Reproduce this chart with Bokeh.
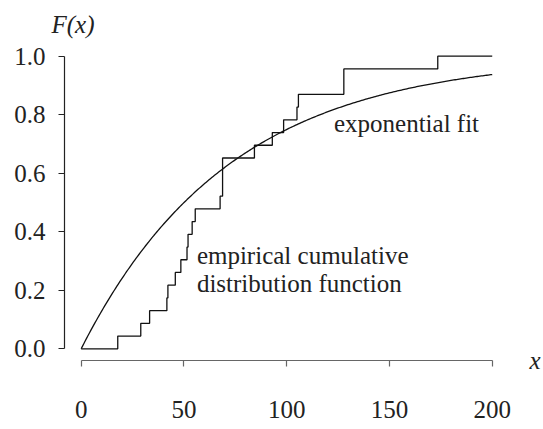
import numpy as np
from bokeh.plotting import figure
from bokeh.models import Range1d, FixedTicker, Label, LinearAxis
from bokeh.embed import file_html
from bokeh.resources import INLINE

# sorted sample values (read from the empirical CDF steps)
sample = [17.8, 29.0, 33.3, 41.7, 42.2, 45.8, 48.5, 51.5, 52.0, 54.0, 55.5,
          67.6, 68.8, 68.8, 68.8, 84.3, 93.0, 98.5, 105.0, 105.7, 127.8,
          127.8, 173.5]
x_ticks = [0, 50, 100, 150, 200]
y_ticks = [0.0, 0.2, 0.4, 0.6, 0.8, 1.0]
y_tick_labels = ["0.0", "0.2", "0.4", "0.6", "0.8", "1.0"]
x_max = 200

n = len(sample)
step_x = [0.0] + sample + [x_max]
step_y = [0.0] + [(i + 1) / n for i in range(n)] + [1.0]

fit_mean = float(np.mean(sample))
fit_x = [float(v) for v in np.linspace(0, x_max, 300)]
fit_y = [float(1 - np.exp(-v / fit_mean)) for v in fit_x]

FONT = "Liberation Serif"
FS = "25px"
TXT = "#222222"

p = figure(width=543, height=429, output_backend="svg",
           toolbar_location=None,
           x_range=Range1d(-8.11, 205.97), y_range=Range1d(-0.040, 1.0366),
           min_border_left=64, min_border_right=38, min_border_top=45,
           min_border_bottom=69)
p.outline_line_alpha = 0
p.xgrid.grid_line_color = None
p.ygrid.grid_line_color = None

p.step(step_x, step_y, mode="after", line_color="#111111", line_width=1.3)
p.line(fit_x, fit_y, line_color="#111111", line_width=1.3)

def style_axis(ax):
    ax.major_label_text_font = FONT
    ax.major_label_text_font_size = FS
    ax.major_label_text_color = TXT
    ax.major_tick_in = 0
    ax.major_tick_out = 6
    ax.minor_tick_in = 0
    ax.minor_tick_out = 0
    ax.major_tick_line_width = 1.2
    ax.axis_line_width = 1.2

for ax in (p.xaxis[0], p.yaxis[0]):
    style_axis(ax)

p.xaxis[0].ticker = FixedTicker(ticks=x_ticks)
p.xaxis[0].bounds = (0, 200)
p.xaxis[0].major_label_standoff = 34
p.xaxis[0].axis_line_color = "#666666"
p.xaxis[0].major_tick_line_color = "#666666"

p.yaxis[0].ticker = FixedTicker(ticks=y_ticks)
p.yaxis[0].bounds = (0, 1)
p.yaxis[0].major_label_overrides = dict(zip(y_ticks, y_tick_labels))
p.yaxis[0].major_label_standoff = 13
p.yaxis[0].axis_line_color = "#222222"
p.yaxis[0].major_tick_line_color = "#222222"

# axis titles placed with helper axes (no line, no ticks)
fx_pos = -4
top_ax = LinearAxis(ticker=FixedTicker(ticks=[fx_pos]),
                    major_label_overrides={fx_pos: "F(x)"})
style_axis(top_ax)
top_ax.axis_line_color = None
top_ax.major_tick_line_color = None
top_ax.major_tick_out = 0
top_ax.major_label_text_font_style = "italic"
top_ax.major_label_standoff = 8
p.add_layout(top_ax, "above")

x_lab_pos = -0.039
right_ax = LinearAxis(ticker=FixedTicker(ticks=[x_lab_pos]),
                      major_label_overrides={x_lab_pos: "x"})
style_axis(right_ax)
right_ax.axis_line_color = None
right_ax.major_tick_line_color = None
right_ax.major_tick_out = 0
right_ax.major_label_text_font_style = "italic"
right_ax.major_label_standoff = 25
p.add_layout(right_ax, "right")

def lab(x, y, t):
    p.add_layout(Label(x=x, y=y, text=t, text_font=FONT, text_font_size=FS,
                       text_color=TXT, text_align="left",
                       text_baseline="middle"))

lab(123, 0.770, "exponential fit")
lab(56.3, 0.319, "empirical cumulative")
lab(56.3, 0.223, "distribution function")

open("out.html", "w").write(file_html(p, INLINE))
